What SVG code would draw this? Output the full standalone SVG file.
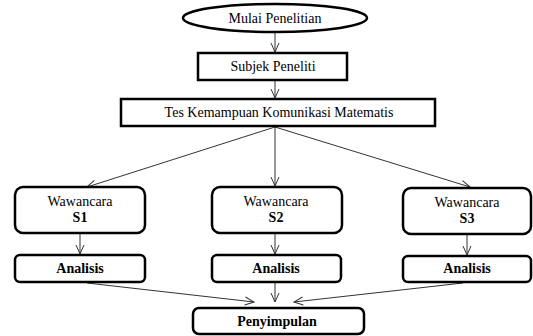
<svg xmlns="http://www.w3.org/2000/svg" width="533" height="336" viewBox="0 0 533 336">
<style>
.n{fill:#fff;stroke:#000;stroke-width:2.5}
.c{stroke:#333;stroke-width:1;fill:none;marker-end:url(#a)}
</style>
<defs>
<marker id="a" markerWidth="12" markerHeight="10" refX="10" refY="5" orient="auto" markerUnits="userSpaceOnUse">
<path d="M1,1 L10,5 L1,9" fill="none" stroke="#333" stroke-width="1"/>
</marker>
</defs>
<g id="connectors">
<line class="c" x1="275" y1="32" x2="275" y2="52"/>
<line class="c" x1="275" y1="80" x2="275" y2="98"/>
<line class="c" x1="275" y1="127" x2="87" y2="187"/>
<line class="c" x1="275" y1="127" x2="275" y2="186"/>
<line class="c" x1="275" y1="127" x2="470" y2="187"/>
<line class="c" x1="80" y1="234" x2="80" y2="254"/>
<line class="c" x1="275" y1="234" x2="275" y2="254"/>
<line class="c" x1="467" y1="235" x2="467" y2="255"/>
<line class="c" x1="87" y1="283" x2="254" y2="302"/>
<line class="c" x1="275" y1="283" x2="275" y2="302"/>
<line class="c" x1="463" y1="283" x2="294" y2="302"/>
</g>
<g id="mulai"><ellipse class="n" cx="275" cy="18" rx="92" ry="14"/><text font-family="Liberation Serif" font-size="14" text-anchor="middle" x="275" y="23">Mulai Penelitian</text></g>
<g id="subjek"><rect class="n" x="198" y="53" width="149" height="27" stroke-width="3"/><text font-family="Liberation Serif" font-size="14" text-anchor="middle" x="273" y="71">Subjek Peneliti</text></g>
<g id="tes"><rect class="n" x="121" y="99" width="314" height="27" stroke-width="3"/><text font-family="Liberation Serif" font-size="14" text-anchor="middle" x="279" y="117">Tes Kemampuan Komunikasi Matematis</text></g>
<g id="s1"><rect class="n" x="15" y="187" width="130" height="46" rx="8"/><text font-family="Liberation Serif" font-size="14" text-anchor="middle" x="80" y="206">Wawancara</text><text font-family="Liberation Serif" font-size="14" font-weight="bold" text-anchor="middle" x="80" y="222">S1</text></g>
<g id="s2"><rect class="n" x="212" y="187" width="130" height="46" rx="8"/><text font-family="Liberation Serif" font-size="14" text-anchor="middle" x="276" y="206">Wawancara</text><text font-family="Liberation Serif" font-size="14" font-weight="bold" text-anchor="middle" x="276" y="222">S2</text></g>
<g id="s3"><rect class="n" x="403" y="188" width="128" height="46" rx="8"/><text font-family="Liberation Serif" font-size="14" text-anchor="middle" x="467" y="207">Wawancara</text><text font-family="Liberation Serif" font-size="14" font-weight="bold" text-anchor="middle" x="467" y="223">S3</text></g>
<g id="a1"><rect class="n" x="15" y="255" width="130" height="27" rx="5"/><text font-family="Liberation Serif" font-size="14" font-weight="bold" text-anchor="middle" x="80" y="273">Analisis</text></g>
<g id="a2"><rect class="n" x="212" y="255" width="129" height="27" rx="5"/><text font-family="Liberation Serif" font-size="14" font-weight="bold" text-anchor="middle" x="276" y="273">Analisis</text></g>
<g id="a3"><rect class="n" x="403" y="256" width="128" height="26" rx="5"/><text font-family="Liberation Serif" font-size="14" font-weight="bold" text-anchor="middle" x="467" y="273">Analisis</text></g>
<g id="peny"><rect class="n" x="193" y="308" width="171" height="26" rx="6"/><text font-family="Liberation Serif" font-size="14" font-weight="bold" text-anchor="middle" x="277" y="326">Penyimpulan</text></g>
</svg>
